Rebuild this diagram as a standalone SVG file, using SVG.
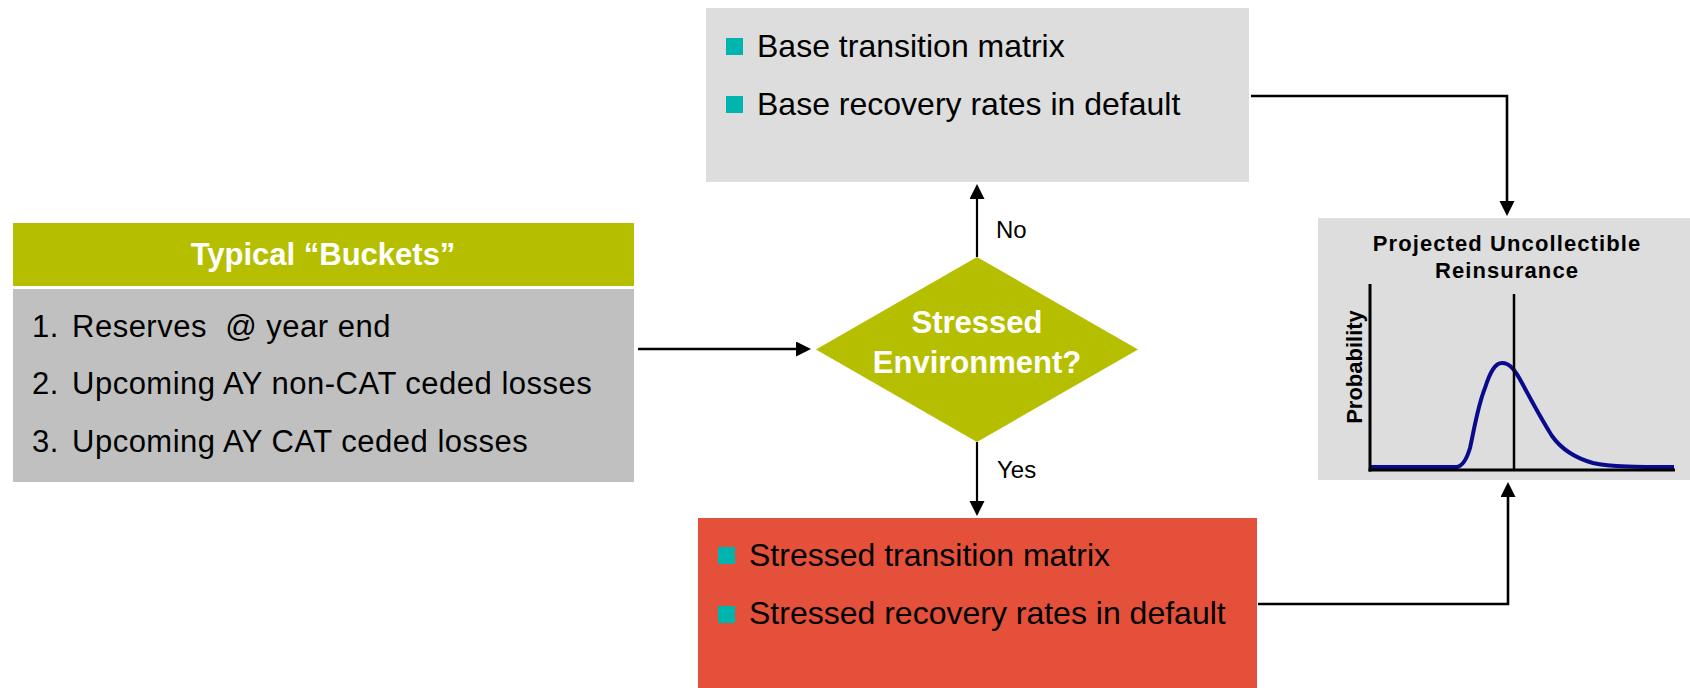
<svg xmlns="http://www.w3.org/2000/svg" width="1690" height="688" viewBox="0 0 1690 688">
<defs>
<style>
text{font-family:"Liberation Sans",Arial,sans-serif;fill:#000}
.b{font-size:32px}
.l{font-size:31px;letter-spacing:0.5px}
.h{font-size:31px;font-weight:bold;fill:#fff}
.lab{font-size:24px}
.t{font-size:22px;font-weight:bold;letter-spacing:1.1px}
.sq{fill:#00B5AD}
.c{fill:none;stroke:#000;stroke-width:2.6}
.v{fill:none;stroke:#000;stroke-width:2.2}
</style>
<marker id="ah" markerUnits="userSpaceOnUse" markerWidth="16" markerHeight="16" refX="0" refY="7.5" orient="auto" viewBox="0 0 16 16">
<path d="M0,0 L15,7.5 L0,15 Z" fill="#000"/>
</marker>
</defs>
<rect width="1690" height="688" fill="#fff"/>

<g id="buckets">
<rect x="13" y="223" width="621" height="63" fill="#B5BF00"/>
<rect x="13" y="289" width="621" height="193" fill="#C0C0C0"/>
<text class="h" x="323" y="265" text-anchor="middle">Typical “Buckets”</text>
<text class="l" x="32" y="337">1.</text><text class="l" x="72" y="337">Reserves&#160; @ year end</text>
<text class="l" x="32" y="394">2.</text><text class="l" x="72" y="394">Upcoming AY non-CAT ceded losses</text>
<text class="l" x="32" y="452">3.</text><text class="l" x="72" y="452">Upcoming AY CAT ceded losses</text>
</g>

<g id="base">
<rect x="706" y="8" width="543" height="174" fill="#DDDDDD"/>
<rect class="sq" x="726" y="38" width="17" height="17"/>
<text class="b" x="757" y="57">Base transition matrix</text>
<rect class="sq" x="726" y="96" width="17" height="17"/>
<text class="b" x="757" y="115">Base recovery rates in default</text>
</g>

<g id="decision">
<polygon points="816,349.5 977,257 1138,349.5 977,442" fill="#B5BF00"/>
<text class="h" x="977" y="333" text-anchor="middle">Stressed</text>
<text class="h" x="977" y="373" text-anchor="middle">Environment?</text>
</g>

<g id="stressed">
<rect x="698" y="518" width="559" height="170" fill="#E5503A"/>
<rect class="sq" x="718" y="547" width="17" height="17"/>
<text class="b" x="749" y="566">Stressed transition matrix</text>
<rect class="sq" x="718" y="606" width="17" height="17"/>
<text class="b" x="749" y="624">Stressed recovery rates in default</text>
</g>

<g id="result">
<rect x="1318" y="218" width="372" height="262" fill="#DDDDDD"/>
<text class="t" x="1507" y="251" text-anchor="middle">Projected Uncollectible</text>
<text class="t" x="1507" y="278" text-anchor="middle">Reinsurance</text>
<path d="M1371,467 L1457,467 C1463,466 1467,458 1470,448 C1474,430 1478,405 1485,388 C1490,372 1495,363 1502,363 C1510,363 1515,370 1522,383 C1530,398 1542,420 1552,436 C1562,450 1575,458 1593,463 C1610,467 1640,467 1674,467" fill="none" stroke="#0A0A8C" stroke-width="4"/>
<line x1="1370" y1="284" x2="1370" y2="471.5" stroke="#000" stroke-width="3"/>
<line x1="1368.5" y1="470" x2="1675" y2="470" stroke="#000" stroke-width="3"/>
<line x1="1514" y1="294" x2="1514" y2="470" stroke="#000" stroke-width="2.5"/>
<text x="1362" y="367" font-size="22" font-weight="bold" text-anchor="middle" transform="rotate(-90 1362 367)">Probability</text>
</g>

<g id="connectors">
<path class="c" d="M638,349 H796" marker-end="url(#ah)"/>
<path class="v" d="M977,257 V199" marker-end="url(#ah)"/>
<path class="v" d="M977,442 V501" marker-end="url(#ah)"/>
<path class="c" d="M1251,96 H1507 V201" marker-end="url(#ah)"/>
<path class="c" d="M1258,604 H1508 V497" marker-end="url(#ah)"/>
<text class="lab" x="996" y="238">No</text>
<text class="lab" x="997" y="478">Yes</text>
</g>
</svg>
